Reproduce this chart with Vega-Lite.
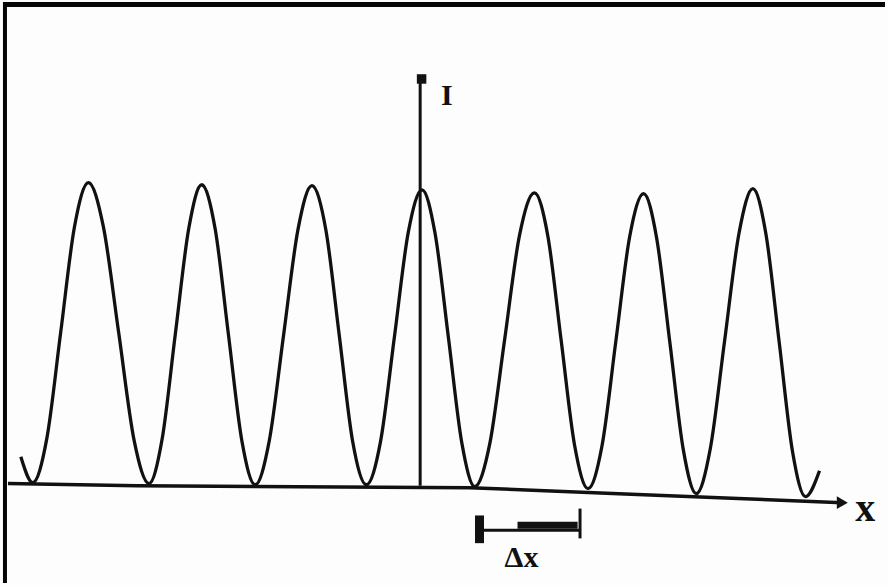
{
  "$schema": "https://vega.github.io/schema/vega-lite/v6.json",
  "width": 888,
  "height": 585,
  "autosize": {"type": "fit", "contains": "padding"},
  "padding": 0,
  "background": "#fdfdfd",
  "config": {"view": {"stroke": null}},
  "datasets": {
    "fringes": [
      {"x": -3.640, "I": 0.097},
      {"x": -3.532, "I": 0.010},
      {"x": -3.405, "I": 0.157},
      {"x": -3.279, "I": 0.513},
      {"x": -3.153, "I": 0.870},
      {"x": -3.027, "I": 1.017},
      {"x": -2.892, "I": 0.870},
      {"x": -2.752, "I": 0.512},
      {"x": -2.613, "I": 0.153},
      {"x": -2.477, "I": 0.007},
      {"x": -2.360, "I": 0.153},
      {"x": -2.239, "I": 0.508},
      {"x": -2.117, "I": 0.863},
      {"x": -2.000, "I": 1.010},
      {"x": -1.878, "I": 0.863},
      {"x": -1.757, "I": 0.507},
      {"x": -1.635, "I": 0.150},
      {"x": -1.514, "I": 0.003},
      {"x": -1.387, "I": 0.150},
      {"x": -1.257, "I": 0.505},
      {"x": -1.126, "I": 0.860},
      {"x": -1.000, "I": 1.007},
      {"x": -0.874, "I": 0.860},
      {"x": -0.752, "I": 0.505},
      {"x": -0.631, "I": 0.150},
      {"x": -0.505, "I": 0.003},
      {"x": -0.378, "I": 0.147},
      {"x": -0.252, "I": 0.498},
      {"x": -0.126, "I": 0.850},
      {"x": 0.000, "I": 0.993},
      {"x": 0.117, "I": 0.847},
      {"x": 0.239, "I": 0.495},
      {"x": 0.360, "I": 0.143},
      {"x": 0.477, "I": -0.003},
      {"x": 0.613, "I": 0.140},
      {"x": 0.748, "I": 0.490},
      {"x": 0.883, "I": 0.840},
      {"x": 1.018, "I": 0.983},
      {"x": 1.140, "I": 0.838},
      {"x": 1.261, "I": 0.487},
      {"x": 1.383, "I": 0.135},
      {"x": 1.505, "I": -0.010},
      {"x": 1.631, "I": 0.133},
      {"x": 1.757, "I": 0.485},
      {"x": 1.883, "I": 0.837},
      {"x": 2.009, "I": 0.980},
      {"x": 2.126, "I": 0.833},
      {"x": 2.248, "I": 0.477},
      {"x": 2.369, "I": 0.120},
      {"x": 2.486, "I": -0.027},
      {"x": 2.613, "I": 0.123},
      {"x": 2.743, "I": 0.485},
      {"x": 2.874, "I": 0.847},
      {"x": 3.000, "I": 0.997},
      {"x": 3.117, "I": 0.847},
      {"x": 3.239, "I": 0.480},
      {"x": 3.360, "I": 0.113},
      {"x": 3.477, "I": -0.037},
      {"x": 3.604, "I": 0.050}
    ],
    "xaxis": [
      {"x": -3.757, "I": 0.007},
      {"x": -2.586, "I": 0.000},
      {"x": 0.432, "I": -0.007},
      {"x": 1.784, "I": -0.027},
      {"x": 2.865, "I": -0.043},
      {"x": 3.811, "I": -0.057}
    ]
  },
  "encoding": {
    "x": {"type": "quantitative", "scale": {"domain": [-3.8018, 4.1982], "nice": false, "zero": false}, "axis": null},
    "y": {"type": "quantitative", "scale": {"domain": [-0.3267, 1.6233], "nice": false, "zero": false}, "axis": null}
  },
  "layer": [
    {
      "data": {"name": "xaxis"},
      "mark": {"type": "line", "color": "#111", "strokeWidth": 3.5},
      "encoding": {"x": {"field": "x", "type": "quantitative"}, "y": {"field": "I", "type": "quantitative"}}
    },
    {
      "data": {"values": [{"x": 3.811, "I": -0.057}]},
      "mark": {"type": "point", "shape": "triangle-right", "filled": true, "color": "#111", "size": 160, "opacity": 1},
      "encoding": {"x": {"field": "x", "type": "quantitative"}, "y": {"field": "I", "type": "quantitative"}}
    },
    {
      "data": {"values": [{"x": -0.018, "I": 0.0, "I2": 1.373}]},
      "mark": {"type": "rule", "color": "#111", "strokeWidth": 3},
      "encoding": {"x": {"field": "x", "type": "quantitative"}, "y": {"field": "I", "type": "quantitative"}, "y2": {"field": "I2"}}
    },
    {
      "data": {"values": [{"x": -0.005, "I": 1.365}]},
      "mark": {"type": "square", "color": "#111", "size": 90, "opacity": 1},
      "encoding": {"x": {"field": "x", "type": "quantitative"}, "y": {"field": "I", "type": "quantitative"}}
    },
    {
      "data": {"name": "fringes"},
      "mark": {"type": "line", "color": "#111", "strokeWidth": 3.3, "interpolate": "monotone"},
      "encoding": {"x": {"field": "x", "type": "quantitative"}, "y": {"field": "I", "type": "quantitative"}}
    },
    {
      "data": {"values": [{"x": 0.505, "x2": 1.441, "I": -0.150}]},
      "mark": {"type": "rule", "color": "#111", "strokeWidth": 3},
      "encoding": {"x": {"field": "x", "type": "quantitative"}, "x2": {"field": "x2"}, "y": {"field": "I", "type": "quantitative"}}
    },
    {
      "data": {"values": [{"x": 0.865, "x2": 1.41, "I": -0.133}]},
      "mark": {"type": "rule", "color": "#111", "strokeWidth": 7},
      "encoding": {"x": {"field": "x", "type": "quantitative"}, "x2": {"field": "x2"}, "y": {"field": "I", "type": "quantitative"}}
    },
    {
      "data": {"values": [{"x": 0.52, "I": -0.100, "I2": -0.193}]},
      "mark": {"type": "rule", "color": "#111", "strokeWidth": 9},
      "encoding": {"x": {"field": "x", "type": "quantitative"}, "y": {"field": "I", "type": "quantitative"}, "y2": {"field": "I2"}}
    },
    {
      "data": {"values": [{"x": 1.432, "I": -0.077, "I2": -0.177}]},
      "mark": {"type": "rule", "color": "#111", "strokeWidth": 3},
      "encoding": {"x": {"field": "x", "type": "quantitative"}, "y": {"field": "I", "type": "quantitative"}, "y2": {"field": "I2"}}
    },
    {
      "data": {"values": [{"x": 0.225, "I": 1.307, "label": "I"}]},
      "mark": {"type": "text", "font": "Liberation Serif", "fontWeight": "bold", "fontSize": 30, "color": "#111", "baseline": "middle", "align": "center"},
      "encoding": {"x": {"field": "x", "type": "quantitative"}, "y": {"field": "I", "type": "quantitative"}, "text": {"field": "label"}}
    },
    {
      "data": {"values": [{"x": 4.018, "I": -0.093, "label": "x"}]},
      "mark": {"type": "text", "font": "Liberation Serif", "fontWeight": "bold", "fontSize": 40, "color": "#111", "baseline": "middle", "align": "center", "dy": -4},
      "encoding": {"x": {"field": "x", "type": "quantitative"}, "y": {"field": "I", "type": "quantitative"}, "text": {"field": "label"}}
    },
    {
      "data": {"values": [{"x": 0.901, "I": -0.243, "label": "Δx"}]},
      "mark": {"type": "text", "font": "Liberation Serif", "fontWeight": "bold", "fontSize": 30, "color": "#111", "baseline": "middle", "align": "center"},
      "encoding": {"x": {"field": "x", "type": "quantitative"}, "y": {"field": "I", "type": "quantitative"}, "text": {"field": "label"}}
    },
    {
      "data": {"values": [{"x": -3.8018, "x2": 4.1982, "I": 1.6150}]},
      "mark": {"type": "rule", "color": "#050505", "strokeWidth": 5},
      "encoding": {"x": {"field": "x", "type": "quantitative"}, "x2": {"field": "x2"}, "y": {"field": "I", "type": "quantitative"}}
    },
    {
      "data": {"values": [{"x": -3.784, "I": -0.3267, "I2": 1.6233}]},
      "mark": {"type": "rule", "color": "#050505", "strokeWidth": 4},
      "encoding": {"x": {"field": "x", "type": "quantitative"}, "y": {"field": "I", "type": "quantitative"}, "y2": {"field": "I2"}}
    }
  ]
}
